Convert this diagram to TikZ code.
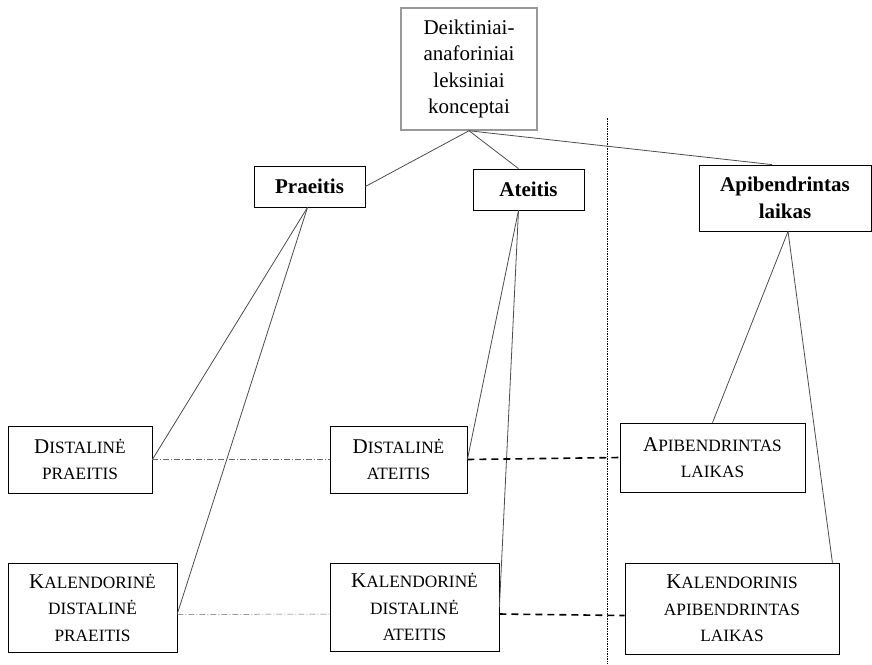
\documentclass[tikz,border=0pt]{standalone}
\usepackage{fontspec}
\setmainfont{Liberation Serif}
\usepackage{tikz}
\usetikzlibrary{positioning}
\newcommand{\nodefont}{\fontsize{21}{26.5}\selectfont}
\newcommand{\lsc}[2]{#1{\fontsize{17.3}{26.5}\selectfont #2}}
\tikzstyle{rootbox} = [rectangle, draw=black!40, line width=1.5pt, align=center,
   minimum width=136pt, minimum height=122pt, inner sep=2pt]
\tikzstyle{headbox} = [rectangle, draw, line width=0.8pt, align=center,
   font=\nodefont\bfseries, inner sep=2pt]
\tikzstyle{leafbox} = [rectangle, draw, line width=0.8pt, align=center, inner sep=2pt]
\tikzstyle{link} = [draw, black!70, line width=0.8pt]
\tikzstyle{crosslink} = [draw, black!60, line width=0.5pt, dash pattern=on 6pt off 2pt on 1pt off 2pt]
\tikzstyle{boldlink} = [draw, line width=1.6pt, dash pattern=on 7pt off 5pt]
\tikzstyle{divider} = [draw, line width=0.6pt, dash pattern=on 1.5pt off 1pt]

\begin{document}
\begin{tikzpicture}[x=1pt, y=-1pt, every node/.style={font=\nodefont}]
\useasboundingbox (0,0) rectangle (872,664);

\node (root) [rootbox] at (469,69) {Deiktiniai-\\anaforiniai\\leksiniai\\konceptai};

\node (past) [headbox, minimum width=111pt, minimum height=41pt] at (309.5,186.5) {Praeitis};
\node (future) [headbox, minimum width=111pt, minimum height=41pt] at (528.5,189.5) {Ateitis};
\node (general) [headbox, minimum width=172pt, minimum height=66pt] at (785,198) {Apibendrintas\\laikas};

\node (distpast) [leafbox, minimum width=144pt, minimum height=67pt] at (80,459.5)
   {\lsc{D}{ISTALINĖ}\\\lsc{}{PRAEITIS}};
\node (distfut) [leafbox, minimum width=137pt, minimum height=67pt] at (398.5,459.5)
   {\lsc{D}{ISTALINĖ}\\\lsc{}{ATEITIS}};
\node (gentime) [leafbox, minimum width=185pt, minimum height=69pt] at (712.5,457.5)
   {\lsc{A}{PIBENDRINTAS}\\\lsc{}{LAIKAS}};

\node (calpast) [leafbox, minimum width=169pt, minimum height=89pt] at (92.5,607.5)
   {\lsc{K}{ALENDORINĖ}\\\lsc{}{DISTALINĖ}\\\lsc{}{PRAEITIS}};
\node (calfut) [leafbox, minimum width=169pt, minimum height=88pt] at (414.5,607)
   {\lsc{K}{ALENDORINĖ}\\\lsc{}{DISTALINĖ}\\\lsc{}{ATEITIS}};
\node (calgen) [leafbox, minimum width=214pt, minimum height=91pt] at (732,608.5)
   {\lsc{K}{ALENDORINIS}\\\lsc{}{APIBENDRINTAS}\\\lsc{}{LAIKAS}};

% separator
\coordinate (sepTop) at (607,118);
\coordinate (sepBot) at (607,664);
\draw [divider] (sepTop) -- (sepBot);

\draw [link] (root.south) -- (past.east);
\draw [link] (root.south) -- ([xshift=-10pt]future.north);
\draw [link] (root.south) -- ([xshift=-13pt]general.north);

\draw [link] ([xshift=-2pt]past.south) -- (distpast.east);
\draw [link] ([xshift=-2pt]past.south) -- ([yshift=-6pt]calpast.east);
\draw [link] ([xshift=-10pt]future.south) -- (distfut.east);
\draw [link] ([xshift=-10pt]future.south) -- (calfut.east);
\draw [link] ([xshift=3pt]general.south) -- (gentime.north);
\draw [link] ([xshift=3pt]general.south) -- ([xshift=-7pt]calgen.north east);

\draw [crosslink] (distpast.east) -- (distfut.west);
\draw [crosslink] ([yshift=-7pt]calpast.east) -- ([yshift=-7pt]calfut.west);
\draw [boldlink] (distfut.east) -- (gentime.west);
\draw [boldlink] ([yshift=-7pt]calfut.east) -- ([yshift=-7pt]calgen.west);

\end{tikzpicture}
\end{document}
